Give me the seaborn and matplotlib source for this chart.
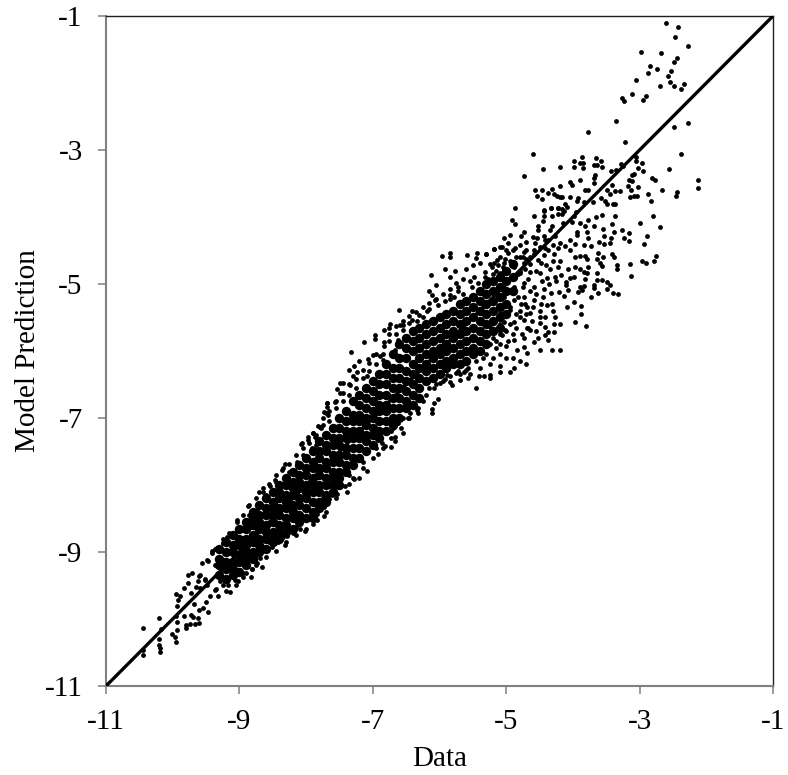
import matplotlib
matplotlib.use("Agg")
import matplotlib.pyplot as plt
import pandas as pd
import seaborn as sns

# Hand-read scatter points (outer / sparse parts of the cloud)
points_top = [(-2.61,-1.10),(-2.42,-1.17),(-2.47,-1.32),(-2.27,-1.45),(-2.98,-1.54),(-2.68,-1.55),(-2.44,-1.63),(-2.48,-1.68),(-2.85,-1.74),(-2.74,-1.79),(-2.88,-1.85),(-2.53,-1.82),(-2.58,-1.89),(-3.05,-1.96),(-2.55,-1.98),(-2.69,-2.04),(-2.48,-2.05),(-2.34,-2.01),(-2.38,-2.09),(-3.12,-2.16),(-2.91,-2.19),(-2.95,-2.26),(-3.26,-2.22),(-3.24,-2.27),(-3.36,-2.57),(-2.49,-2.65),(-2.27,-2.59),(-3.77,-2.73),(-3.22,-2.88),(-4.6,-3.06),(-2.38,-3.06),(-3.87,-3.10),(-3.66,-3.12),(-3.99,-3.16),(-3.58,-3.17),(-3.90,-3.19),(-3.85,-3.20),(-4.19,-3.25),(-3.99,-3.26),(-3.85,-3.27),(-3.68,-3.23),(-3.64,-3.22),(-3.57,-3.25),(-4.45,-3.29),(-3.43,-3.31),(-3.36,-3.30),(-3.28,-3.21),(-3.25,-3.24),(-3.05,-3.10),(-3.06,-3.16),(-2.96,-3.20),(-3.02,-3.27),(-2.95,-3.32),(-2.56,-3.28),(-4.74,-3.39),(-3.67,-3.37),(-3.68,-3.42),(-3.09,-3.36),(-3.12,-3.37),(-3.89,-3.45),(-4.05,-3.48),(-4.02,-3.52),(-4.19,-3.53),(-3.69,-3.49),(-3.42,-3.52),(-3.16,-3.45),(-3.12,-3.46),(-3.18,-3.53),(-3.02,-3.55),(-2.82,-3.42),(-2.77,-3.45),(-2.13,-3.45),(-2.12,-3.57),(-4.57,-3.59),(-4.47,-3.59),(-4.31,-3.58),(-4.38,-3.64),(-4.54,-3.68),(-4.46,-3.73),(-4.29,-3.65),(-4.24,-3.68),(-4.19,-3.70),(-4.16,-3.70),(-4.05,-3.70),(-3.82,-3.60),(-3.77,-3.59),(-3.93,-3.72),(-3.94,-3.76),(-3.83,-3.77),(-3.70,-3.77),(-3.58,-3.71),(-3.52,-3.76),(-3.49,-3.60),(-3.44,-3.66),(-3.37,-3.61),(-3.30,-3.61),(-3.13,-3.60),(-3.15,-3.70),(-3.08,-3.68),(-3.04,-3.69),(-2.87,-3.66),(-2.66,-3.60),(-2.44,-3.62),(-2.45,-3.69),(-2.83,-3.76),(-3.49,-3.81),(-3.40,-3.81),(-3.37,-3.81),(-4.87,-3.87),(-4.43,-3.89),(-4.33,-3.87),(-4.23,-3.86),(-4.16,-3.88),(-4.12,-3.80),(-4.09,-3.85)]

points_upper_mid = [(-4.58,-3.98),(-4.91,-4.05),(-4.87,-4.10),(-4.44,-3.91),(-4.43,-3.98),(-4.45,-4.06),(-4.33,-3.87),(-4.22,-3.86),(-4.23,-3.95),(-4.32,-3.98),(-4.14,-3.91),(-4.17,-3.96),(-3.95,-3.92),(-3.99,-3.98),(-3.57,-3.97),(-3.65,-4.00),(-3.37,-3.98),(-3.42,-4.10),(-2.80,-3.99),(-2.99,-4.09),(-2.69,-4.15),(-3.78,-4.05),(-3.82,-4.13),(-3.69,-4.13),(-3.89,-4.09),(-4.02,-4.07),(-4.15,-4.09),(-4.53,-4.13),(-4.52,-4.19),(-4.73,-4.22),(-4.94,-4.27),(-4.78,-4.28),(-5.04,-4.31),(-4.32,-4.13),(-4.34,-4.19),(-4.44,-4.29),(-4.54,-4.32),(-4.57,-4.39),(-4.37,-4.34),(-4.27,-4.29),(-3.94,-4.22),(-3.94,-4.27),(-3.79,-4.23),(-3.77,-4.32),(-3.55,-4.18),(-3.53,-4.28),(-3.38,-4.23),(-3.27,-4.19),(-3.16,-4.24),(-3.24,-4.31),(-3.16,-4.36),(-2.89,-4.28),(-2.94,-4.40),(-3.61,-4.37),(-3.54,-4.40),(-3.45,-4.39),(-3.43,-4.32),(-4.19,-4.39),(-4.04,-4.34),(-3.97,-4.40),(-3.84,-4.42),(-3.73,-4.44),(-4.12,-4.44),(-4.22,-4.47),(-5.31,-4.55),(-5.19,-4.48),(-5.07,-4.45),(-4.87,-4.47),(-4.74,-4.52),(-4.59,-4.49),(-4.42,-4.47),(-4.29,-4.55),(-4.04,-4.49),(-3.97,-4.60),(-3.90,-4.58),(-3.82,-4.58),(-3.63,-4.53),(-3.55,-4.60),(-3.42,-4.55),(-3.39,-4.59),(-2.76,-4.58),(-2.97,-4.65),(-2.91,-4.69),(-2.79,-4.65),(-3.14,-4.70),(-3.34,-4.71),(-3.34,-4.78),(-3.13,-4.88),(-3.64,-4.63),(-3.59,-4.69),(-3.57,-4.73),(-3.79,-4.63),(-4.19,-4.65),(-4.07,-4.77),(-3.97,-4.74),(-3.89,-4.78),(-3.77,-4.74),(-3.64,-4.83),(-3.84,-4.82),(-3.79,-4.84),(-4.27,-4.89),(-4.18,-4.87),(-4.04,-4.91),(-3.99,-4.90),(-3.82,-4.92),(-3.64,-4.94),(-3.57,-4.94),(-3.49,-4.97),(-3.45,-5.01),(-3.69,-5.02),(-3.89,-5.04),(-3.84,-5.03),(-4.10,-4.97),(-4.10,-5.02),(-3.69,-5.06),(-4.33,-5.13),(-4.21,-5.12),(-4.07,-5.09),(-3.92,-5.12),(-3.87,-5.09),(-3.49,-5.07),(-3.62,-5.14),(-3.73,-5.20),(-3.40,-5.14),(-3.33,-5.15),(-4.14,-5.18),(-4.32,-5.30),(-4.39,-5.31),(-4.48,-5.30),(-3.98,-5.27),(-3.88,-5.33),(-4.09,-5.35),(-3.88,-5.45),(-4.30,-5.41),(-4.27,-5.49),(-3.97,-5.56),(-3.81,-5.63),(-4.20,-5.59),(-4.29,-5.60),(-4.28,-5.72),(-4.37,-5.71),(-4.50,-5.49),(-4.49,-5.58),(-4.42,-5.64),(-4.19,-5.98),(-4.31,-5.99),(-4.49,-5.99),(-4.37,-5.84),(-4.42,-5.76),(-4.52,-5.81),(-4.59,-5.87),(-4.74,-5.81),(-4.89,-5.84),(-5.07,-5.76),(-4.69,-5.66),(-4.64,-5.69),(-4.74,-5.94),(-4.84,-5.99),(-5.00,-5.93),(-5.09,-5.89),(-4.69,-6.03),(-5.32,-4.90),(-5.27,-4.92),(-5.19,-4.69),(-5.14,-4.64),(-5.04,-4.69),(-4.97,-4.54),(-4.89,-4.74),(-4.74,-4.69),(-4.64,-4.59),(-4.52,-4.64),(-4.44,-4.57),(-4.79,-4.84),(-4.64,-4.82),(-4.49,-4.84),(-4.39,-4.91),(-5.09,-4.84),(-5.02,-4.99),(-4.89,-5.04),(-4.74,-4.99),(-4.59,-5.04),(-4.44,-5.07),(-5.14,-5.09),(-5.22,-5.29),(-5.04,-5.19),(-4.89,-5.24),(-4.74,-5.19),(-4.59,-5.24),(-4.79,-5.41),(-4.64,-5.44),(-4.69,-5.34),(-4.94,-5.39),(-5.09,-5.44),(-4.89,-5.56),(-4.74,-5.54),(-4.67,-5.66),(-5.24,-5.64),(-5.04,-5.56)]

points_mid_edges = [(-4.97,-4.39),(-5.09,-4.45),(-5.19,-4.48),(-5.31,-4.55),(-5.44,-4.54),(-5.45,-4.61),(-5.59,-4.56),(-5.85,-4.53),(-5.85,-4.60),(-5.97,-4.58),(-5.92,-4.77),(-5.77,-4.81),(-6.12,-4.86),(-5.85,-4.90),(-6.05,-5.01),(-5.49,-4.90),(-5.55,-4.95),(-5.72,-5.04),(-5.73,-5.10),(-6.15,-5.11),(-6.11,-5.16),(-6.06,-5.24),(-5.85,-5.16),(-5.85,-5.23),(-6.61,-5.39),(-6.41,-5.41),(-6.19,-5.41),(-6.31,-5.46),(-6.41,-5.54),(-6.34,-5.55),(-6.74,-5.59),(-6.76,-5.65),(-6.83,-5.68),(-6.59,-5.61),(-6.54,-5.61),(-6.97,-5.76),(-6.97,-5.82),(-7.13,-5.86),(-6.83,-5.86),(-6.83,-5.92),(-7.32,-6.01),(-7.0,-6.06),(-7.07,-6.12),(-7.2,-6.15),(-7.28,-6.22),(-7.36,-6.28),(-7.29,-6.37),(-7.23,-6.31),(-6.89,-6.08),(-6.84,-6.14),(-6.67,-5.98),(-6.62,-5.84),(-7.09,-6.38),(-7.49,-6.48),(-7.44,-6.48),(-7.54,-6.56),(-7.49,-6.63),(-7.34,-6.51),(-7.57,-6.76),(-7.69,-6.78),(-7.69,-6.83),(-7.73,-6.91),(-7.67,-6.96),(-7.82,-7.12),(-7.78,-7.15),(-7.89,-7.22),(-7.97,-7.28),(-7.87,-7.28),(-8.07,-7.39),(-5.46,-6.55),(-4.89,-6.25),(-4.95,-6.32),(-5.09,-6.31),(-5.10,-6.23),(-5.24,-6.41),(-5.24,-6.36),(-5.34,-6.37),(-5.415,-6.37),(-5.57,-6.40),(-5.69,-6.43),(-5.815,-6.51),(-5.84,-6.46),(-5.64,-6.32),(-5.75,-6.33),(-5.89,-6.36),(-5.99,-6.48),(-6.015,-6.72),(-6.08,-6.78),(-6.105,-6.86),(-6.11,-6.93),(-6.34,-6.88),(-6.315,-6.93),(-6.465,-7.0),(-6.44,-6.93),(-6.54,-7.22),(-6.615,-7.08),(-6.69,-7.15),(-6.665,-7.28),(-6.665,-7.34),(-6.73,-7.44),(-6.915,-7.53),(-6.865,-7.38),(-6.815,-7.42)]

points_low_edges = [(-7.08,-7.79),(-7.2,-7.9),(-7.28,-7.91),(-7.355,-7.99),(-7.385,-8.1),(-7.53,-8.14),(-7.615,-8.15),(-7.65,-8.21),(-7.725,-8.33),(-7.73,-8.47),(-7.83,-8.44),(-7.84,-8.52),(-7.9,-8.58),(-8.09,-8.66),(-8.015,-8.69),(-8.2,-8.72),(-8.29,-8.76),(-8.315,-8.9),(-8.415,-8.85),(-8.515,-8.92),(-8.665,-9.23),(-8.73,-9.17),(-8.815,-9.26),(-8.825,-9.38),(-8.94,-9.37),(-8.065,-7.38),(-7.965,-7.33),(-7.89,-7.23),(-7.79,-7.13),(-7.7,-6.93),(-7.68,-6.78),(-7.915,-7.45),(-8.14,-7.65),(-8.315,-7.69),(-8.365,-7.78),(-8.465,-7.93),(-8.54,-8.02),(-8.64,-8.05),(-8.7,-8.11),(-8.865,-8.31),(-8.74,-8.37),(-9.04,-8.52),(-9.04,-8.65),(-9.19,-8.77),(-9.09,-8.74),(-9.25,-8.87),(-9.365,-8.95),(-9.415,-9.01),(-9.49,-9.12),(-9.565,-9.17),(-9.515,-9.42),(-9.59,-9.34)]

points_tail = [(-10.45,-10.13),(-10.21,-9.98),(-10.45,-10.54),(-10.45,-10.46),(-10.18,-10.15),(-10.21,-10.3),(-10.2,-10.39),(-10.19,-10.44),(-10.185,-10.5),(-10.005,-10.23),(-9.96,-10.27),(-9.95,-10.34),(-9.93,-10.17),(-9.95,-9.96),(-9.93,-10.04),(-9.825,-9.95),(-9.8,-10.14),(-9.8,-10.09),(-9.74,-10.07),(-9.665,-10.07),(-9.6,-10.06),(-9.69,-9.97),(-9.625,-9.99),(-9.73,-9.94),(-9.6,-9.87),(-9.54,-9.84),(-9.5,-9.74),(-9.465,-9.89),(-9.44,-9.66),(-9.95,-9.63),(-9.89,-9.66),(-9.915,-9.72),(-9.94,-9.8),(-9.825,-9.54),(-9.765,-9.47),(-9.775,-9.35),(-9.715,-9.31),(-9.61,-9.36),(-9.615,-9.43),(-9.515,-9.41),(-9.73,-9.61),(-9.65,-9.52),(-9.59,-9.54),(-9.675,-9.77),(-9.49,-9.49),(-9.365,-9.57),(-9.325,-9.66),(-9.465,-9.14),(-9.415,-8.99),(-9.34,-8.94),(-9.24,-8.87),(-9.04,-8.55),(-9.04,-8.85),(-9.115,-8.97),(-9.365,-9.19),(-9.315,-9.34),(-9.29,-9.44),(-9.215,-9.42),(-9.14,-9.59),(-9.015,-9.44),(-8.94,-9.32),(-8.805,-9.26),(-9.24,-9.12),(-9.165,-9.22),(-9.09,-9.37),(-9.24,-9.49),(-9.165,-9.49),(-9.065,-9.42),(-8.99,-9.27),(-8.89,-9.07),(-8.79,-9.02),(-8.69,-9.09),(-8.89,-8.87),(-8.74,-8.82),(-8.64,-8.92),(-8.94,-8.67),(-8.815,-8.62),(-8.64,-8.62)]

# Loose dots just outside the solid band, between the core and the outer edge
points_band_fill = [(-8.85,-8.45),(-8.6,-8.15),(-8.45,-7.95),(-8.25,-7.8),(-8.05,-7.55),(-7.85,-7.4),(-7.75,-7.1),(-7.65,-7.05),(-7.55,-6.85),(-7.45,-6.75),(-7.35,-6.65),(-7.25,-6.55),(-7.15,-6.4),(-7.05,-6.3),(-6.95,-6.2),(-6.85,-6.05),(-6.75,-5.85),(-6.65,-5.75),(-6.55,-5.68),(-6.45,-5.58),(-6.25,-5.5),(-6.15,-5.38),(-6.02,-5.32),(-5.92,-5.25),(-5.78,-5.2),(-5.65,-5.15),(-5.52,-5.05),(-5.42,-4.98),(-5.32,-4.82),(-5.22,-4.75),(-5.12,-4.72),(-5.02,-4.62),(-5.25,-5.9),(-5.15,-5.85),(-5.1,-5.75),(-5.02,-5.68),(-4.95,-5.6),(-4.85,-5.45),(-4.78,-5.3),(-5.35,-6.1),(-5.45,-6.15),(-5.58,-6.25),(-5.72,-6.3),(-5.92,-6.42),(-6.05,-6.5),(-6.15,-6.55),(-6.25,-6.75),(-6.38,-6.82),(-6.55,-7.0),(-6.72,-7.2),(-6.95,-7.45),(-7.15,-7.65),(-7.35,-7.85),(-7.55,-8.0),(-7.75,-8.2),(-7.95,-8.5),(-8.15,-8.62),(-8.35,-8.78),(-8.55,-8.85),(-8.75,-9.05),(-4.8,-4.6),(-4.8,-4.8),(-4.7,-4.5),(-4.7,-4.62)]

points_tip_fill = [(-5.25,-4.7),(-5.2,-4.85),(-5.15,-4.8),(-5.1,-4.6),(-5.05,-4.75),(-5.0,-4.5),(-4.95,-4.65),(-4.9,-4.5),(-4.85,-4.6),(-4.82,-4.85),(-4.8,-4.42),(-4.75,-4.6),(-4.72,-4.78),(-4.7,-4.38),(-4.68,-4.92),(-4.65,-4.7),(-4.6,-4.3),(-4.58,-4.55),(-4.55,-4.8),(-4.5,-4.45),(-4.48,-4.68),(-4.47,-4.95),(-4.42,-4.35),(-4.4,-4.72),(-4.38,-4.5),(-4.36,-5.0),(-4.35,-4.78),(-4.3,-4.42),(-4.3,-4.65),(-4.25,-4.95),(-4.22,-4.75),(-5.2,-5.8),(-5.15,-5.95),(-5.1,-5.6),(-5.05,-5.45),(-5.0,-5.7),(-4.97,-5.85),(-4.95,-5.35),(-4.9,-5.75),(-4.85,-5.65),(-4.82,-5.2),(-4.8,-5.5),(-4.77,-5.75),(-4.75,-5.05),(-4.72,-5.3),(-4.7,-5.45),(-4.65,-5.1),(-4.62,-5.55),(-4.6,-5.35),(-4.55,-5.15),(-4.55,-5.7),(-4.5,-5.4),(-4.45,-5.2),(-4.42,-5.5),(-5.3,-6.05),(-5.25,-6.2),(-5.2,-6.1),(-5.1,-6.05),(-5.0,-6.1),(-4.9,-6.1),(-4.8,-6.15),(-4.7,-6.2),(-5.4,-6.25),(-5.55,-6.35)]

points_upper_rag = [(-9.25,-8.8),(-9.15,-8.72),(-8.95,-8.45),(-8.85,-8.3),(-8.75,-8.2),(-8.65,-8.1),(-8.55,-7.98),(-8.45,-7.85),(-8.35,-7.75),(-8.25,-7.68),(-8.15,-7.55),(-8.05,-7.45),(-7.95,-7.38),(-7.85,-7.25),(-7.75,-7.0),(-7.65,-6.9),(-7.55,-6.75),(-7.45,-6.62),(-7.35,-6.5),(-7.25,-6.42),(-7.15,-6.28),(-7.05,-6.18),(-6.95,-6.05),(-6.75,-5.75),(-6.65,-5.62),(-6.55,-5.55),(-6.45,-5.48),(-6.35,-5.42),(-6.25,-5.35),(-6.15,-5.28),(-6.05,-5.22),(-5.95,-5.15),(-5.85,-5.08),(-5.75,-4.98),(-5.65,-4.92),(-5.6,-4.78),(-5.5,-4.72),(-5.4,-4.68)]

points_lower_rag = [(-9.35,-9.55),(-9.2,-9.58),(-9.05,-9.5),(-8.9,-9.32),(-8.75,-9.2),(-8.6,-9.08),(-8.45,-8.98),(-8.3,-8.85),(-8.15,-8.75),(-8.0,-8.65),(-7.7,-8.4),(-7.55,-8.2),(-7.42,-8.02),(-7.3,-7.9),(-7.15,-7.75),(-7.0,-7.6),(-6.85,-7.45),(-6.72,-7.3),(-6.58,-7.15),(-6.45,-7.0),(-6.32,-6.85),(-6.2,-6.65),(-6.08,-6.55),(-5.95,-6.45),(-5.85,-6.38),(-5.7,-6.35),(-5.6,-6.28)]

# Dense core of the cloud, read as columns of y values at each x
core_columns = {
-9.3:[-8.95,-9.1,-9.2,-9.35], -9.2:[-8.85,-9.0,-9.15,-9.25,-9.4], -9.1:[-8.75,-8.9,-9.0,-9.15,-9.25,-9.35],
-9.0:[-8.65,-8.8,-8.9,-9.05,-9.15,-9.3], -8.9:[-8.55,-8.65,-8.8,-8.9,-9.0,-9.1,-9.2], -8.8:[-8.4,-8.5,-8.6,-8.75,-8.85,-9.0,-9.1],
-8.7:[-8.3,-8.45,-8.55,-8.65,-8.8,-8.9,-9.0], -8.6:[-8.2,-8.35,-8.45,-8.6,-8.7,-8.8,-8.95], -8.5:[-8.1,-8.25,-8.35,-8.45,-8.55,-8.7,-8.8,-8.85],
-8.4:[-8.0,-8.1,-8.2,-8.35,-8.45,-8.6,-8.7,-8.8], -8.3:[-7.9,-8.0,-8.15,-8.25,-8.35,-8.5,-8.6,-8.7], -8.2:[-7.8,-7.95,-8.05,-8.15,-8.3,-8.4,-8.5,-8.65],
-8.1:[-7.7,-7.85,-7.95,-8.05,-8.2,-8.3,-8.45,-8.55], -8.0:[-7.6,-7.75,-7.85,-8.0,-8.1,-8.2,-8.35,-8.5], -7.9:[-7.5,-7.65,-7.75,-7.9,-8.0,-8.1,-8.25,-8.4,-8.5],
-7.8:[-7.35,-7.5,-7.6,-7.75,-7.85,-8.0,-8.1,-8.25,-8.35], -7.7:[-7.25,-7.4,-7.5,-7.65,-7.75,-7.9,-8.0,-8.15,-8.25], -7.6:[-7.15,-7.3,-7.4,-7.55,-7.65,-7.8,-7.9,-8.0,-8.1],
-7.5:[-7.0,-7.15,-7.3,-7.4,-7.55,-7.65,-7.8,-7.9,-8.0], -7.4:[-6.9,-7.05,-7.2,-7.3,-7.45,-7.55,-7.7,-7.8], -7.3:[-6.75,-6.95,-7.05,-7.2,-7.3,-7.45,-7.6,-7.7],
-7.2:[-6.65,-6.8,-6.95,-7.05,-7.2,-7.3,-7.45,-7.6], -7.1:[-6.55,-6.7,-6.85,-7.0,-7.1,-7.25,-7.35,-7.5], -7.0:[-6.45,-6.6,-6.75,-6.9,-7.0,-7.15,-7.25,-7.4],
-6.9:[-6.35,-6.5,-6.65,-6.8,-6.9,-7.05,-7.2,-7.3], -6.8:[-6.2,-6.35,-6.5,-6.65,-6.8,-6.9,-7.05,-7.2], -6.7:[-6.05,-6.25,-6.4,-6.55,-6.7,-6.85,-7.0,-7.1],
-6.6:[-5.9,-6.1,-6.25,-6.4,-6.55,-6.7,-6.85,-7.0], -6.5:[-5.8,-5.95,-6.1,-6.3,-6.45,-6.6,-6.75,-6.85], -6.4:[-5.7,-5.85,-6.0,-6.2,-6.35,-6.5,-6.65,-6.8],
-6.3:[-5.65,-5.8,-5.95,-6.1,-6.25,-6.4,-6.55,-6.7], -6.2:[-5.6,-5.75,-5.9,-6.05,-6.2,-6.3,-6.45], -6.1:[-5.55,-5.7,-5.85,-6.0,-6.1,-6.25,-6.4],
-6.0:[-5.5,-5.65,-5.8,-5.95,-6.05,-6.2,-6.35], -5.9:[-5.45,-5.6,-5.75,-5.9,-6.0,-6.15,-6.25], -5.8:[-5.4,-5.55,-5.7,-5.8,-5.95,-6.1,-6.2],
-5.7:[-5.3,-5.45,-5.6,-5.75,-5.9,-6.05,-6.2], -5.6:[-5.25,-5.4,-5.55,-5.7,-5.85,-6.0,-6.15], -5.5:[-5.2,-5.35,-5.5,-5.65,-5.8,-5.95,-6.05],
-5.4:[-5.1,-5.25,-5.4,-5.55,-5.7,-5.85,-6.0], -5.3:[-5.0,-5.15,-5.3,-5.45,-5.6,-5.75,-5.9], -5.2:[-4.95,-5.1,-5.25,-5.4,-5.55,-5.7],
-5.1:[-4.9,-5.05,-5.2,-5.35,-5.5,-5.65], -5.0:[-4.8,-4.95,-5.1,-5.3,-5.45], -4.9:[-4.7,-4.9,-5.1],
}

ref_line_x = [-11, -1]
ref_line_y = [-11, -1]
tick_values = [-11, -9, -7, -5, -3, -1]

sparse = pd.DataFrame(points_top + points_upper_mid + points_mid_edges + points_low_edges + points_tail
                      + points_band_fill + points_tip_fill + points_upper_rag + points_lower_rag,
                      columns=["Data", "Model Prediction"])
core = pd.DataFrame([(x, y) for x, ys in core_columns.items() for y in ys],
                    columns=["Data", "Model Prediction"])
line = pd.DataFrame({"Data": ref_line_x, "Model Prediction": ref_line_y})

sns.set_theme(style="white")
plt.rcParams["font.family"] = ["Liberation Serif", "DejaVu Serif"]

W, H = 788, 775
fig = plt.figure(figsize=(W / 100, H / 100), dpi=100)
ax = fig.add_axes([106 / W, 1 - 686 / H, (773 - 106) / W, (686 - 16) / H])

sns.scatterplot(data=core, x="Data", y="Model Prediction", ax=ax, s=46, color="black",
                linewidth=0, clip_on=False, zorder=2)
sns.scatterplot(data=sparse, x="Data", y="Model Prediction", ax=ax, s=12, color="black",
                linewidth=0, clip_on=False, zorder=2)
sns.lineplot(data=line, x="Data", y="Model Prediction", ax=ax, color="black", linewidth=2.4,
             errorbar=None, zorder=3)

ax.set_xlim(-11, -1)
ax.set_ylim(-11, -1)
ax.set_xticks(tick_values)
ax.set_yticks(tick_values)
ax.set_xticklabels([str(t) for t in tick_values])
ax.set_yticklabels([str(t) for t in tick_values])
ax.tick_params(axis="both", length=5.8, width=1.1, color="#808080", labelsize=21,
               labelcolor="black", direction="out", bottom=True, left=True)
ax.tick_params(axis="x", pad=11)
ax.tick_params(axis="y", pad=11)
ax.set_xlabel("Data", fontsize=21, color="black", labelpad=8)
ax.set_ylabel("Model Prediction", fontsize=21, color="black", labelpad=3)
for side in ["left", "bottom"]:
    ax.spines[side].set_color("#808080")
    ax.spines[side].set_linewidth(1.5)
for side in ["top", "right"]:
    ax.spines[side].set_color("#202020")
    ax.spines[side].set_linewidth(1.0)

fig.savefig("out.png", dpi=100)
